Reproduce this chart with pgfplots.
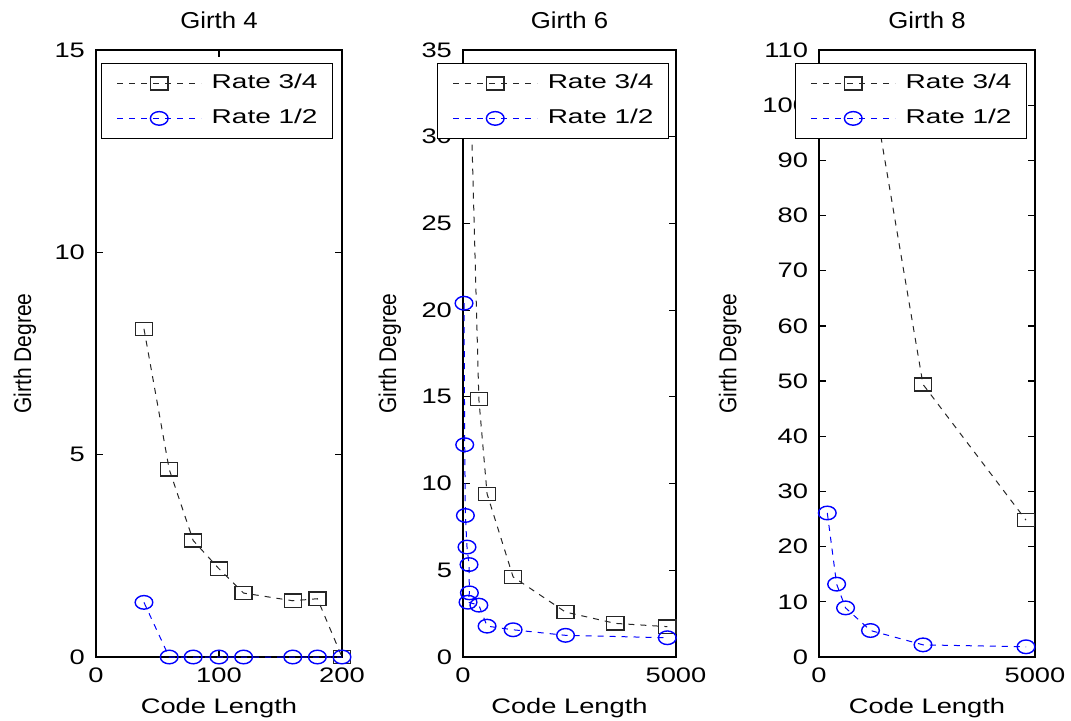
\documentclass[border=0pt]{standalone}
\usepackage{fontspec}
\setmainfont{Liberation Sans}[FakeStretch=1.3]
\newfontfamily\plainfont{Liberation Sans}
\usepackage{graphicx}
\usepackage{pgfplots}
\pgfplotsset{compat=1.18}
\definecolor{mblue}{RGB}{0,0,255}
\newcommand{\legtxt}[1]{\scalebox{1.4}[1]{#1}}
\newcommand{\tittxt}[1]{\scalebox{1.12}[1]{#1}}
\pgfplotsset{
  mlab/.style={
    scale only axis, height=303.5pt,
    axis line style={line width=0.8pt, black},
    tick style={line width=0.6pt, black},
    tick align=inside, major tick length=3.5pt,
    xtick pos=both, ytick pos=both,
    xticklabel pos=lower, yticklabel pos=left,
    /pgf/number format/assume math mode=true,
    scaled ticks=false,
    /pgf/number format/set thousands separator={},
    ticklabel style={font=\fontsize{10.5}{12}\selectfont},
    xticklabel style={yshift=-2pt},
    yticklabel style={xshift=-2pt},
    title style={font=\plainfont\fontsize{11.5}{13}\selectfont, at={(0.5,1)}, anchor=base, yshift=5pt},
    xlabel style={font=\fontsize{10.5}{12}\selectfont, at={(0.5,0)}, anchor=base, yshift=-28pt},
    ylabel style={font=\plainfont\fontsize{10.5}{12}\selectfont, anchor=center},
    xlabel={Code Length},
    ylabel={\scalebox{1}[1.15]{Girth Degree}},
    legend cell align=left,
    legend style={at={(1,1)}, anchor=north east, yshift=-6.5pt,
      draw=black, fill=white, font=\plainfont\fontsize{10}{12}\selectfont,
      inner xsep=7.5pt, inner ysep=5pt, row sep=7.5pt,
      nodes={inner sep=0pt, text height=7.5pt, text depth=2.5pt},
      /tikz/every odd column/.append style={column sep=5pt}},
    legend image code/.code={\draw[mark repeat=2,mark phase=2] plot coordinates {(0pt,0pt)(21pt,0pt)(42pt,0pt)};},
  },
  s34/.style={black!85, line width=0.5pt, dash pattern=on 3pt off 3pt, mark=square, mark size=3.3pt, mark options={solid, xscale=1.3, line width=0.7pt}},
  r12/.style={mblue, line width=0.5pt, dash pattern=on 3pt off 3pt, mark=o, mark size=3.4pt, mark options={solid, xscale=1.3, line width=0.7pt}},
}
\begin{document}
\begin{tikzpicture}
\useasboundingbox (0,0) rectangle (535.5pt,360pt);
% Panel 1
\begin{axis}[mlab, at={(48pt,31.5pt)}, anchor=south west, width=123pt,
  xmin=0, xmax=200, ymin=0, ymax=15, xtick={0,100,200}, ytick={0,5,10,15},
  title={\tittxt{Girth 4}}, ylabel style={at={(-0.2886,0.5)}}, legend style={xshift=-4.5pt}]
\addplot[s34] coordinates {(39,8.11) (59.5,4.64) (79,2.88) (100,2.18) (120,1.58) (160,1.39) (180,1.44) (200,0)};
\addplot[r12] coordinates {(39,1.35) (59.5,0) (79,0) (100,0) (120,0) (160,0) (180,0) (200,0)};
\legend{\legtxt{Rate 3/4}, \legtxt{Rate 1/2}}
\end{axis}
% Panel 2
\begin{axis}[mlab, at={(231.5pt,31.5pt)}, anchor=south west, width=106.5pt,
  xmin=0, xmax=5000, ymin=0, ymax=35, xtick={0,5000}, ytick={0,5,...,35},
  title={\tittxt{Girth 6}}, ylabel style={at={(-0.343,0.5)}}, legend style={xshift=-3.5pt}]
\addplot[s34] coordinates {(175,33) (372,14.87) (565,9.41) (1176,4.62) (2407,2.59) (3574,1.94) (4796,1.75)};
\addplot[r12] coordinates {(24,20.4) (40,12.24) (56,8.16) (94,6.34) (141,5.33) (150,3.70) (118,3.16) (372,2.99) (565,1.78) (1176,1.57) (2407,1.25) (4796,1.11)};
\legend{\legtxt{Rate 3/4}, \legtxt{Rate 1/2}}
\end{axis}
% Panel 3
\begin{axis}[mlab, at={(409.5pt,31.5pt)}, anchor=south west, width=108pt,
  xmin=0, xmax=5000, ymin=0, ymax=110, xtick={0,5000}, ytick={0,10,...,110},
  title={\tittxt{Girth 8}}, ylabel style={at={(-0.412,0.5)}}, legend style={xshift=-4pt}]
\addplot[s34] coordinates {(1200,105) (2408,49.4) (4792,24.8)};
\addplot[r12] coordinates {(192,26.1) (408,13.2) (615,8.9) (1192,4.8) (2408,2.2) (4792,1.85)};
\legend{\legtxt{Rate 3/4}, \legtxt{Rate 1/2}}
\end{axis}
\end{tikzpicture}
\end{document}
